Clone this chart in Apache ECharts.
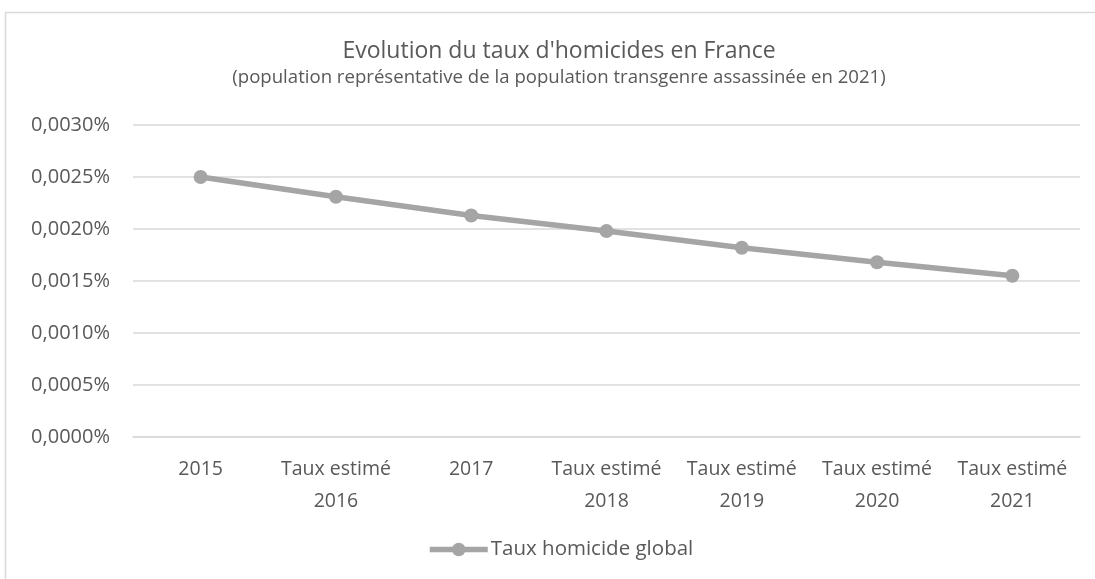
<!DOCTYPE html>
<html>
<head>
<meta charset="utf-8">
<script src="https://cdn.jsdelivr.net/npm/echarts@6/dist/echarts.min.js"></script>
<style>
  html, body { margin: 0; padding: 0; background: #fff; }
  #chart { width: 1095px; height: 579px; }
</style>
</head>
<body>
<div id="chart"></div>
<script>
  // valeurs en pourcentage
  const categories = ['2015', 'Taux estimé\n2016', '2017', 'Taux estimé\n2018', 'Taux estimé\n2019', 'Taux estimé\n2020', 'Taux estimé\n2021'];
  const tauxGlobal = [0.00250, 0.00231, 0.00213, 0.00198, 0.00182, 0.00168, 0.00155];
  const yTicks = { min: 0, max: 0.003, interval: 0.0005 };

  const textColor = '#595959';
  const font = '"Open Sans", sans-serif';

  const chart = echarts.init(document.getElementById('chart'));
  chart.setOption({
    backgroundColor: '#fff',
    animation: false,
    textStyle: { fontFamily: font, color: textColor },
    graphic: [{
      type: 'rect',
      shape: { x: 5.5, y: 12.5, width: 1200, height: 700 },
      style: { fill: 'none', stroke: '#d9d9d9', lineWidth: 1.5 },
      silent: true
    }],
    title: {
      text: "Evolution du taux d'homicides en France",
      subtext: '(population représentative de la population transgenre assassinée en 2021)',
      left: 559,
      textAlign: 'center',
      top: 40,
      padding: 0,
      itemGap: 5,
      textStyle: { fontFamily: font, fontSize: 23, fontWeight: 'normal', color: textColor },
      subtextStyle: { fontFamily: font, fontSize: 18.6, color: textColor }
    },
    legend: {
      bottom: 14,
      left: 422,
      itemWidth: 58,
      itemHeight: 17,
      itemGap: 10,
      lineStyle: { width: 5.5 },
      textStyle: { fontFamily: font, fontSize: 20.5, color: textColor, padding: [0, 0, 0, -2] },
      data: ['Taux homicide global']
    },
    grid: { left: 133, right: 15, top: 125, bottom: 142, containLabel: false },
    xAxis: {
      type: 'category',
      data: categories,
      boundaryGap: true,
      axisLine: { lineStyle: { color: '#d9d9d9', width: 1.5 } },
      axisTick: { show: false },
      axisLabel: { interval: 0, fontFamily: font, fontSize: 19.5, color: textColor, margin: 16, lineHeight: 32 }
    },
    yAxis: {
      type: 'value',
      min: yTicks.min,
      max: yTicks.max,
      interval: yTicks.interval,
      axisLine: { show: false },
      axisTick: { show: false },
      splitLine: { lineStyle: { color: '#d9d9d9', width: 1.5 } },
      axisLabel: {
        fontFamily: font, fontSize: 20, color: textColor, margin: 23,
        formatter: v => v.toFixed(4).replace('.', ',') + '%'
      }
    },
    series: [{
      name: 'Taux homicide global',
      type: 'line',
      data: tauxGlobal,
      symbol: 'circle',
      symbolSize: 14,
      itemStyle: { color: '#a5a5a5' },
      lineStyle: { color: '#a5a5a5', width: 5.5 }
    }]
  });
</script>
</body>
</html>
